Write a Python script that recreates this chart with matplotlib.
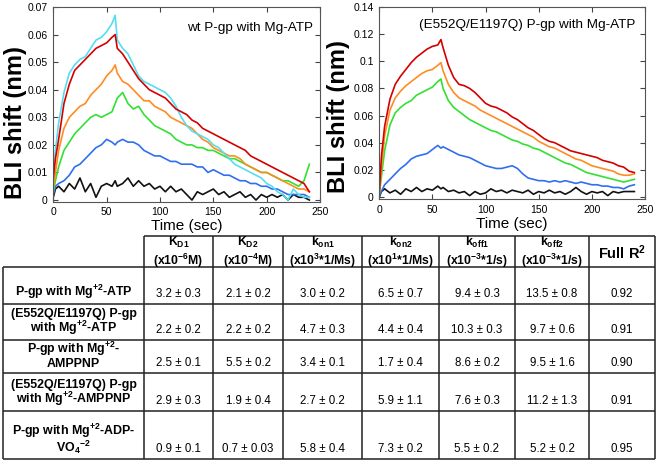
import matplotlib.pyplot as plt
import numpy as np
from matplotlib.ticker import FuncFormatter

plt.rcParams['font.family'] = ['Liberation Sans', 'DejaVu Sans']
plt.rcParams['mathtext.default'] = 'regular'

# time axis (sec) shared by all traces
time = [0, 2, 5, 10, 15, 20, 25, 30, 35, 40, 45, 50, 55, 58] + list(range(60, 245, 5))

# wt P-gp with Mg-ATP (nm)
wt_cyan = [0.010, 0.018, 0.028, 0.039, 0.046, 0.049, 0.051, 0.052, 0.055, 0.058, 0.059, 0.061, 0.064, 0.067,
           0.058, 0.055, 0.053, 0.049, 0.045, 0.043, 0.042, 0.041, 0.040, 0.039, 0.037, 0.034, 0.030,
           0.027, 0.025, 0.024, 0.023, 0.022, 0.020, 0.019, 0.017, 0.015, 0.013, 0.012, 0.011, 0.010,
           0.009, 0.008, 0.006, 0.005, 0.003, 0.002, 0.000, 0.004, 0.002, 0.001, 0.001]
wt_red = [0.008, 0.015, 0.022, 0.035, 0.042, 0.047, 0.049, 0.051, 0.053, 0.055, 0.056, 0.057, 0.059, 0.060,
          0.055, 0.053, 0.050, 0.047, 0.044, 0.042, 0.040, 0.039, 0.038, 0.037, 0.035, 0.033, 0.032,
          0.031, 0.029, 0.028, 0.026, 0.025, 0.024, 0.023, 0.022, 0.021, 0.020, 0.019, 0.018, 0.016,
          0.015, 0.014, 0.013, 0.012, 0.011, 0.010, 0.009, 0.008, 0.007, 0.006, 0.003]
wt_orange = [0.004, 0.010, 0.018, 0.026, 0.030, 0.032, 0.034, 0.035, 0.038, 0.040, 0.042, 0.045, 0.047, 0.049,
             0.046, 0.043, 0.042, 0.040, 0.038, 0.036, 0.036, 0.034, 0.033, 0.032, 0.030, 0.029, 0.028,
             0.027, 0.026, 0.024, 0.022, 0.021, 0.019, 0.018, 0.017, 0.016, 0.016, 0.015, 0.013, 0.012,
             0.011, 0.010, 0.010, 0.009, 0.008, 0.007, 0.006, 0.005, 0.004, 0.004, 0.003]
wt_green = [0.003, 0.007, 0.012, 0.018, 0.021, 0.024, 0.026, 0.028, 0.030, 0.031, 0.030, 0.031, 0.032, 0.035,
            0.037, 0.039, 0.035, 0.033, 0.034, 0.031, 0.029, 0.027, 0.026, 0.025, 0.024, 0.022, 0.021,
            0.020, 0.020, 0.019, 0.019, 0.018, 0.018, 0.017, 0.016, 0.015, 0.015, 0.014, 0.013, 0.012,
            0.011, 0.010, 0.010, 0.009, 0.008, 0.007, 0.007, 0.006, 0.005, 0.007, 0.013]
wt_blue = [0.002, 0.005, 0.006, 0.007, 0.009, 0.012, 0.013, 0.015, 0.017, 0.019, 0.020, 0.022, 0.021, 0.020,
           0.021, 0.022, 0.021, 0.021, 0.020, 0.018, 0.017, 0.016, 0.016, 0.015, 0.014, 0.014, 0.013,
           0.013, 0.013, 0.012, 0.012, 0.010, 0.011, 0.010, 0.009, 0.009, 0.008, 0.007, 0.007, 0.006,
           0.006, 0.005, 0.005, 0.004, 0.004, 0.003, 0.002, 0.002, 0.002, 0.002, 0.001]
wt_black = [0.001, 0.004, 0.005, 0.003, 0.006, 0.004, 0.008, 0.003, 0.006, 0.001, 0.005, 0.006, 0.005, 0.007,
            0.005, 0.006, 0.008, 0.005, 0.007, 0.005, 0.006, 0.004, 0.005, 0.003, 0.005, 0.003, 0.004,
            0.002, 0.000, 0.003, 0.002, 0.003, 0.004, 0.002, 0.003, 0.001, 0.002, 0.003, 0.001, 0.002,
            0.000, 0.002, 0.001, 0.002, 0.001, 0.002, 0.000, 0.002, 0.001, 0.001, 0.000]

# (E552Q/E1197Q) P-gp with Mg-ATP (nm)
mut_red = [0.003, 0.030, 0.052, 0.072, 0.083, 0.089, 0.094, 0.099, 0.103, 0.106, 0.109, 0.111, 0.112, 0.116,
           0.110, 0.097, 0.088, 0.083, 0.082, 0.080, 0.077, 0.073, 0.069, 0.067, 0.066, 0.064, 0.062,
           0.059, 0.057, 0.054, 0.051, 0.049, 0.046, 0.043, 0.041, 0.040, 0.038, 0.036, 0.034, 0.033,
           0.032, 0.031, 0.030, 0.029, 0.027, 0.026, 0.025, 0.023, 0.022, 0.019, 0.018]
mut_orange = [0.003, 0.022, 0.045, 0.064, 0.073, 0.078, 0.082, 0.085, 0.088, 0.091, 0.093, 0.094, 0.097, 0.099,
              0.093, 0.083, 0.077, 0.073, 0.071, 0.069, 0.067, 0.064, 0.062, 0.060, 0.058, 0.056, 0.054,
              0.052, 0.050, 0.048, 0.046, 0.044, 0.041, 0.039, 0.037, 0.036, 0.034, 0.032, 0.030, 0.028,
              0.027, 0.025, 0.023, 0.022, 0.021, 0.020, 0.019, 0.017, 0.016, 0.016, 0.017]
mut_green = [0.002, 0.015, 0.034, 0.053, 0.062, 0.066, 0.069, 0.071, 0.075, 0.077, 0.079, 0.081, 0.085, 0.087,
             0.080, 0.071, 0.066, 0.063, 0.060, 0.057, 0.055, 0.053, 0.051, 0.049, 0.048, 0.046, 0.044,
             0.042, 0.041, 0.039, 0.038, 0.036, 0.035, 0.033, 0.031, 0.029, 0.027, 0.025, 0.024, 0.022,
             0.020, 0.018, 0.017, 0.016, 0.015, 0.014, 0.013, 0.012, 0.011, 0.012, 0.013]
mut_blue = [0.001, 0.004, 0.009, 0.013, 0.017, 0.021, 0.024, 0.028, 0.030, 0.031, 0.032, 0.035, 0.038, 0.036,
            0.037, 0.035, 0.033, 0.031, 0.030, 0.029, 0.027, 0.025, 0.023, 0.022, 0.021, 0.021, 0.022,
            0.023, 0.021, 0.017, 0.014, 0.013, 0.012, 0.012, 0.011, 0.012, 0.011, 0.012, 0.011, 0.010,
            0.011, 0.010, 0.009, 0.009, 0.008, 0.008, 0.007, 0.007, 0.006, 0.008, 0.009]
mut_black = [0.000, 0.004, 0.006, 0.003, 0.005, 0.002, 0.006, 0.004, 0.007, 0.004, 0.006, 0.005, 0.008, 0.006,
             0.007, 0.004, 0.005, 0.003, 0.004, 0.001, 0.004, 0.002, 0.003, 0.006, 0.004, 0.005, 0.003,
             0.005, 0.004, 0.003, 0.005, 0.002, 0.004, 0.003, 0.005, 0.003, 0.004, 0.002, 0.004, 0.007,
             0.004, 0.002, 0.004, 0.003, 0.004, 0.001, 0.004, 0.003, 0.004, 0.004, 0.004]

# kinetic fit table
row_labels = ['P-gp with Mg$^{+2}$-ATP',
              '(E552Q/E1197Q) P-gp\nwith Mg$^{+2}$-ATP',
              'P-gp with Mg$^{+2}$-\nAMPPNP',
              '(E552Q/E1197Q) P-gp\nwith Mg$^{+2}$-AMPPNP',
              'P-gp with Mg$^{+2}$-ADP-\nVO$_{4}{}^{-2}$']
col_labels = ['K$_{D1}$\n(x10$^{-6}$M)', 'K$_{D2}$\n(x10$^{-4}$M)', 'k$_{on1}$\n(x10$^{3}$*1/Ms)',
              'k$_{on2}$\n(x10$^{1}$*1/Ms)', 'k$_{off1}$\n(x10$^{-3}$*1/s)', 'k$_{off2}$\n(x10$^{-3}$*1/s)',
              'Full R$^{2}$']
kd1 = ['3.2 ± 0.3', '2.2 ± 0.2', '2.5 ± 0.1', '2.9 ± 0.3', '0.9 ± 0.1']
kd2 = ['2.1 ± 0.2', '2.2 ± 0.2', '5.5 ± 0.2', '1.9 ± 0.4', '0.7 ± 0.03']
kon1 = ['3.0 ± 0.2', '4.7 ± 0.3', '3.4 ± 0.1', '2.7 ± 0.2', '5.8 ± 0.4']
kon2 = ['6.5 ± 0.7', '4.4 ± 0.4', '1.7 ± 0.4', '5.9 ± 1.1', '7.3 ± 0.2']
koff1 = ['9.4 ± 0.3', '10.3 ± 0.3', '8.6 ± 0.2', '7.6 ± 0.3', '5.5 ± 0.2']
koff2 = ['13.5 ± 0.8', '9.7 ± 0.6', '9.5 ± 1.6', '11.2 ± 1.3', '5.2 ± 0.2']
full_r2 = ['0.92', '0.91', '0.90', '0.91', '0.95']

RED, CYAN, ORANGE = '#d40000', '#55def0', '#ff8c22'
GREEN, BLUE, BLACK = '#33e033', '#2f6ff0', '#111111'


def style_axes(ax, ymin, ymax, ystep, title, title_x, title_y, label_x, label_y):
    ax.set_xlim(0, 250)
    ax.set_ylim(ymin, ymax)
    ax.set_xticks(range(0, 251, 50))
    ax.set_yticks(np.arange(0, ymax + 1e-9, ystep))
    ax.yaxis.set_major_formatter(FuncFormatter(lambda v, p: '%g' % round(v, 3)))
    ax.tick_params(direction='in', top=True, right=True, length=3.5, width=0.8,
                   labelsize=7.5, pad=4, color='#444444')
    for s in ax.spines.values():
        s.set_color('#555555')
        s.set_linewidth(0.8)
    ax.set_xlabel('Time (sec)', fontsize=11, labelpad=1.5)
    ax.set_ylabel('BLI shift (nm)', fontsize=17, fontweight='bold')
    ax.yaxis.set_label_coords(label_x, label_y)
    ax.text(title_x, title_y, title, transform=ax.transAxes, ha='right', va='center', fontsize=9.7)


fig = plt.figure(figsize=(6.57, 4.61), dpi=100)

ax1 = fig.add_axes([53.3 / 657, 1 - 201.7 / 461, 266.7 / 657, 194.7 / 461])
for vals, c in [(wt_black, BLACK), (wt_blue, BLUE), (wt_green, GREEN),
                (wt_orange, ORANGE), (wt_cyan, CYAN), (wt_red, RED)]:
    ax1.plot(time, vals, color=c, lw=1.2)
style_axes(ax1, -0.0006, 0.07, 0.01, 'wt P-gp with Mg-ATP', 0.974, 0.89, -0.099, 0.405)

ax2 = fig.add_axes([379.3 / 657, 1 - 199 / 461, 265.7 / 657, 192 / 461])
for vals, c in [(mut_black, BLACK), (mut_blue, BLUE), (mut_green, GREEN),
                (mut_orange, ORANGE), (mut_red, RED)]:
    ax2.plot(time, vals, color=c, lw=1.2)
style_axes(ax2, -0.0015, 0.14, 0.02, '(E552Q/E1197Q) P-gp with Mg-ATP', 0.962, 0.906, -0.11, 0.43)

# table drawn in pixel coordinates
col_x = [3, 144, 213, 283, 362, 439, 515, 589, 655]
row_y = [236, 267, 304, 340, 373, 411, 459]
tab = fig.add_axes([0, 0, 1, 1])
tab.set_xlim(0, 657)
tab.set_ylim(461, 0)
tab.axis('off')
line_kw = dict(color='#222222', lw=1.1)
tab.hlines(row_y[0], col_x[1], col_x[-1], **line_kw)
tab.hlines(row_y[1:], col_x[0], col_x[-1], **line_kw)
tab.vlines(col_x[0], row_y[1], row_y[-1], **line_kw)
tab.vlines(col_x[1:], row_y[0], row_y[-1], **line_kw)

head_mid = (row_y[0] + row_y[1]) / 2 + 1
for i, lab in enumerate(col_labels):
    cx = (col_x[i + 1] + col_x[i + 2]) / 2
    tab.text(cx, head_mid, lab, ha='center', va='center', fontsize=10.5 if i == 6 else 8.8,
             fontweight='bold', linespacing=1.15)

columns = [kd1, kd2, kon1, kon2, koff1, koff2, full_r2]
for r, lab in enumerate(row_labels):
    yb = row_y[r + 2] - 3.5
    tab.text((col_x[0] + col_x[1]) / 2, yb, lab, ha='center', va='bottom', fontsize=8.9,
             fontweight='bold', multialignment='center', linespacing=0.9)
    for i, col in enumerate(columns):
        cx = (col_x[i + 1] + col_x[i + 2]) / 2
        tab.text(cx, row_y[r + 2] - 4, col[r], ha='center', va='bottom', fontsize=8.3)

fig.savefig('out.png', dpi=100)
